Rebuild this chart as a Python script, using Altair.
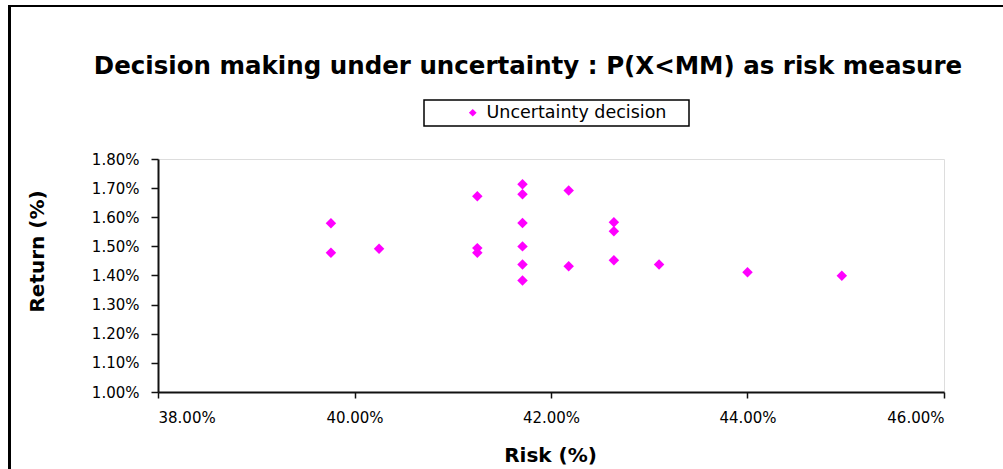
import altair as alt
import pandas as pd

# Data
risk = [39.76, 39.76, 40.25, 41.25, 41.25, 41.25,
        41.71, 41.71, 41.71, 41.71, 41.71, 41.71,
        42.18, 42.18, 42.64, 42.64, 42.64, 43.10, 44.00, 44.96]
ret = [1.579, 1.478, 1.492, 1.672, 1.494, 1.478,
       1.713, 1.679, 1.580, 1.500, 1.438, 1.383,
       1.692, 1.432, 1.583, 1.552, 1.452, 1.438, 1.411, 1.399]
series_name = "Uncertainty decision"
title_text = "Decision making under uncertainty : P(X<MM) as risk measure"
x_title = "Risk (%)"
y_title = "Return (%)"
x_ticks = [0.38, 0.40, 0.42, 0.44, 0.46]
y_ticks = [0.010, 0.011, 0.012, 0.013, 0.014, 0.015, 0.016, 0.017, 0.018]

df = pd.DataFrame({
    "risk": [r / 100 for r in risk],
    "ret": [r / 100 for r in ret],
    "series": [series_name] * len(risk),
})

W, H = 786, 233
PL, PT = 158, 159
FONT = "DejaVu Sans"

points = alt.Chart(df).mark_point(shape="diamond", filled=True, size=110, opacity=1).encode(
    x=alt.X("risk:Q", scale=alt.Scale(domain=[0.38, 0.46], nice=False, zero=False),
            axis=alt.Axis(values=x_ticks, format=".2%", title=x_title, grid=False,
                          domainColor="#111", domainWidth=2, tickColor="#111", tickSize=6, tickWidth=1.5,
                          labelFont=FONT, labelFontSize=15, labelColor="black", labelPadding=12,
                          titleFont=FONT, titleFontSize=20, titleFontWeight="bold", titleColor="black",
                          titleX=392, titleY=63, titleBaseline="middle", titleAlign="center")),
    y=alt.Y("ret:Q", scale=alt.Scale(domain=[0.010, 0.018], nice=False, zero=False),
            axis=alt.Axis(values=y_ticks, format=".2%", title=y_title, grid=False,
                          domainColor="#111", domainWidth=2, tickColor="#111", tickSize=7, tickWidth=1.5,
                          labelFont=FONT, labelFontSize=15, labelColor="black", labelPadding=12,
                          titleFont=FONT, titleFontSize=20, titleFontWeight="bold", titleColor="black",
                          titleX=-121, titleY=92, titleAngle=-90, titleBaseline="middle", titleAlign="center")),
    color=alt.Color("series:N", scale=alt.Scale(range=["#FF00FF"]),
                    legend=alt.Legend(orient="none", legendX=306, legendY=-55, title=None,
                                      symbolType="diamond", symbolSize=60, symbolStrokeWidth=0,
                                      labelFont=FONT, labelFontSize=17.5, labelColor="black",
                                      labelLimit=400, padding=0, labelOffset=5)),
)

title_df = pd.DataFrame({"t": [title_text]})
title = alt.Chart(title_df).mark_text(font=FONT, fontSize=24.5, fontWeight="bold", color="black",
                                       align="center", baseline="middle").encode(
    text="t:N", x=alt.value(528 - PL), y=alt.value(67 - PT))

box = alt.Chart(pd.DataFrame({"a": [0]})).mark_rect(fill="white", stroke="black", strokeWidth=1.5).encode(
    x=alt.value(424 - PL), x2=alt.value(689 - PL), y=alt.value(100 - PT), y2=alt.value(126 - PT))

frame_left = alt.Chart(pd.DataFrame({"a": [0]})).mark_rule(color="black", strokeWidth=3).encode(
    x=alt.value(9.5 - PL), y=alt.value(5 - PT), y2=alt.value(469 - PT))
frame_top = alt.Chart(pd.DataFrame({"a": [0]})).mark_rule(color="black", strokeWidth=2).encode(
    x=alt.value(8 - PL), x2=alt.value(1003 - PL), y=alt.value(6 - PT))

chart = alt.layer(frame_left, frame_top, box, title, points).properties(
    width=W, height=H,
    autosize=alt.AutoSizeParams(type="none"),
    padding={"left": PL, "top": PT, "right": 1003 - PL - W, "bottom": 469 - PT - H},
).configure_view(stroke=None).configure(background="white")

chart.save("out.html", embed_options={"renderer": "svg", "actions": False})
